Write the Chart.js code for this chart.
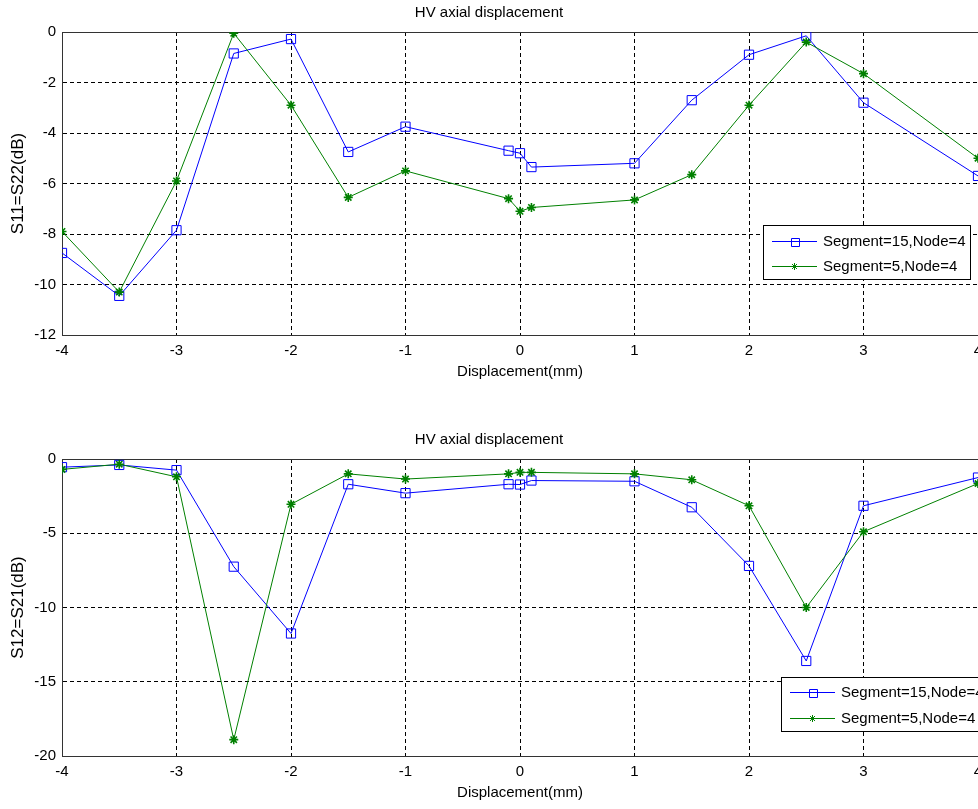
<!DOCTYPE html>
<html>
<head>
<meta charset="utf-8">
<title>HV axial displacement</title>
<script src="https://cdn.jsdelivr.net/npm/chart.js@4.4.1/dist/chart.umd.min.js"></script>
<style>
  html, body { margin: 0; padding: 0; background: #fff; }
  body { width: 978px; height: 809px; overflow: hidden; position: relative; }
  .plot { position: absolute; left: 0; }
  #topPlot { top: 0; }
  #bottomPlot { top: 427px; }
</style>
</head>
<body>
<div class="plot" id="topPlot"><canvas id="s11Chart" width="1040" height="400"></canvas></div>
<div class="plot" id="bottomPlot"><canvas id="s12Chart" width="1040" height="382"></canvas></div>
<script>
const displacement = [-4, -3.5, -3, -2.5, -2, -1.5, -1, -0.1, 0, 0.1, 1, 1.5, 2, 2.5, 3, 4];
const seriesLabels = ["Segment=15,Node=4", "Segment=5,Node=4"];

// S11 = S22 (dB)
const s11Seg15 = [-8.75, -10.45, -7.85, -0.85, -0.28, -4.75, -3.75, -4.7, -4.8, -5.35, -5.2, -2.7, -0.9, -0.15, -2.8, -5.7];
const s11Seg5  = [-7.9, -10.3, -5.9, -0.05, -2.9, -6.55, -5.5, -6.6, -7.1, -6.95, -6.65, -5.65, -2.9, -0.4, -1.65, -5.0];

// S12 = S21 (dB)
const s12Seg15 = [-0.55, -0.4, -0.75, -7.25, -11.75, -1.7, -2.3, -1.7, -1.72, -1.45, -1.5, -3.25, -7.2, -13.6, -3.15, -1.25];
const s12Seg5  = [-0.7, -0.35, -1.2, -18.9, -3.05, -1.0, -1.35, -1.0, -0.9, -0.9, -1.0, -1.4, -3.15, -10.0, -4.9, -1.65];

const xRange = [-4, 4, 1];          // min, max, step
const s11Range = [-12, 0, 2];
const s12Range = [-20, 0, 5];

const FONT = "'Liberation Sans', Arial, sans-serif";
const BLUE = "#0000ff";
const GREEN = "#008000";

function toPoints(ys) {
  return displacement.map((x, i) => ({ x: x, y: ys[i] }));
}

function drawMarker(ctx, style, x, y, r, color) {
  ctx.strokeStyle = color;
  ctx.lineWidth = 1;
  ctx.beginPath();
  if (style === "rect") {
    const h = Math.round(r);
    ctx.rect(Math.round(x) - h + 0.5, Math.round(y) - h + 0.5, 2 * h, 2 * h);
  } else {
    for (let k = 0; k < 4; k++) {
      const a = k * Math.PI / 4;
      ctx.moveTo(x - Math.cos(a) * r, y - Math.sin(a) * r);
      ctx.lineTo(x + Math.cos(a) * r, y + Math.sin(a) * r);
    }
  }
  ctx.stroke();
}

// box round the axes, like the matlab one
const frame = {
  id: "frame",
  beforeDatasetsDraw(chart) {
    const { ctx, chartArea: a } = chart;
    ctx.save();
    ctx.strokeStyle = "#333";
    ctx.lineWidth = 1;
    ctx.strokeRect(Math.round(a.left) + 0.5, Math.round(a.top) + 0.5,
      Math.round(a.right - a.left), Math.round(a.bottom - a.top));
    ctx.restore();
  }
};

// legend drawn inside the plot area
const boxLegend = {
  id: "boxLegend",
  afterDatasetsDraw(chart, args, opts) {
    const { ctx, chartArea } = chart;
    const left = Math.round(chartArea.right - opts.fromRight);
    const top = Math.round(chartArea.bottom - opts.fromBottom);
    ctx.save();
    ctx.fillStyle = "#fff";
    ctx.fillRect(left, top, opts.width, opts.height);
    ctx.strokeStyle = "#000";
    ctx.lineWidth = 1;
    ctx.strokeRect(left + 0.5, top + 0.5, opts.width, opts.height);
    chart.data.datasets.forEach((ds, i) => {
      const y = Math.round(top + opts.rows[i]);
      ctx.strokeStyle = ds.borderColor;
      ctx.lineWidth = 1;
      ctx.beginPath();
      ctx.moveTo(left + 9, y + 0.5);
      ctx.lineTo(left + 54, y + 0.5);
      ctx.stroke();
      drawMarker(ctx, ds.pointStyle, left + 31.5, y + 0.5, ds.pointStyle === "rect" ? 4 : 3.5, ds.borderColor);
      ctx.fillStyle = "#000";
      ctx.font = "15px " + FONT;
      ctx.textBaseline = "middle";
      ctx.fillText(ds.label, left + 60, y + 1);
    });
    ctx.restore();
  }
};

function makeChart(canvasId, seg15, seg5, yRange, yTitle, padBottom, legendPos) {
  const ctx = document.getElementById(canvasId).getContext("2d");
  return new Chart(ctx, {
    type: "line",
    data: {
      datasets: [{
        label: seriesLabels[0],
        data: toPoints(seg15),
        borderColor: BLUE,
        borderWidth: 1,
        pointStyle: "rect",
        pointRadius: 6.5,
        pointBorderWidth: 1,
        pointBorderColor: BLUE,
        pointBackgroundColor: "rgba(0,0,0,0)",
        tension: 0,
        order: 2
      }, {
        label: seriesLabels[1],
        data: toPoints(seg5),
        borderColor: GREEN,
        borderWidth: 1,
        pointStyle: "star",
        pointRadius: 4.5,
        pointBorderWidth: 1.6,
        pointBorderColor: GREEN,
        pointBackgroundColor: GREEN,
        tension: 0,
        order: 1
      }]
    },
    options: {
      responsive: false,
      animation: false,
      layout: { padding: { left: 0, right: 62, top: 0, bottom: padBottom } },
      plugins: {
        legend: { display: false },
        tooltip: { enabled: false },
        title: {
          display: true,
          text: "HV axial displacement",
          color: "#000",
          font: { family: FONT, size: 15, weight: "normal" },
          padding: { top: 3.5, bottom: 10.5 }
        },
        boxLegend: legendPos
      },
      scales: {
        x: {
          type: "linear",
          min: xRange[0], max: xRange[1],
          ticks: { stepSize: xRange[2], color: "#000", padding: 7, font: { family: FONT, size: 15 } },
          grid: { color: "#000", lineWidth: 1, drawTicks: false },
          border: { color: "#333", width: 1, dash: [4, 3] },
          title: {
            display: true, text: "Displacement(mm)", color: "#000",
            font: { family: FONT, size: 15 }, padding: { top: 0, bottom: 4 }
          },
          afterFit(scale) { scale.height = 50; }
        },
        y: {
          min: yRange[0], max: yRange[1],
          ticks: { stepSize: yRange[2], color: "#000", padding: 6, font: { family: FONT, size: 15 } },
          grid: { color: "#000", lineWidth: 1, drawTicks: false },
          border: { color: "#333", width: 1, dash: [4, 3] },
          title: {
            display: true, text: yTitle, color: "#000",
            font: { family: FONT, size: 17 }, padding: { top: 8, bottom: 0 }
          },
          afterFit(scale) { scale.width = 62; }
        }
      }
    },
    plugins: [frame, boxLegend]
  });
}

makeChart("s11Chart", s11Seg15, s11Seg5, s11Range, "S11=S22(dB)", 15,
  { fromRight: 215, fromBottom: 110, width: 207, height: 54, rows: [15.5, 40.5] });
makeChart("s12Chart", s12Seg15, s12Seg5, s12Range, "S12=S21(dB)", 3,
  { fromRight: 197, fromBottom: 79, width: 209, height: 54, rows: [15, 40.5] });
</script>
</body>
</html>
